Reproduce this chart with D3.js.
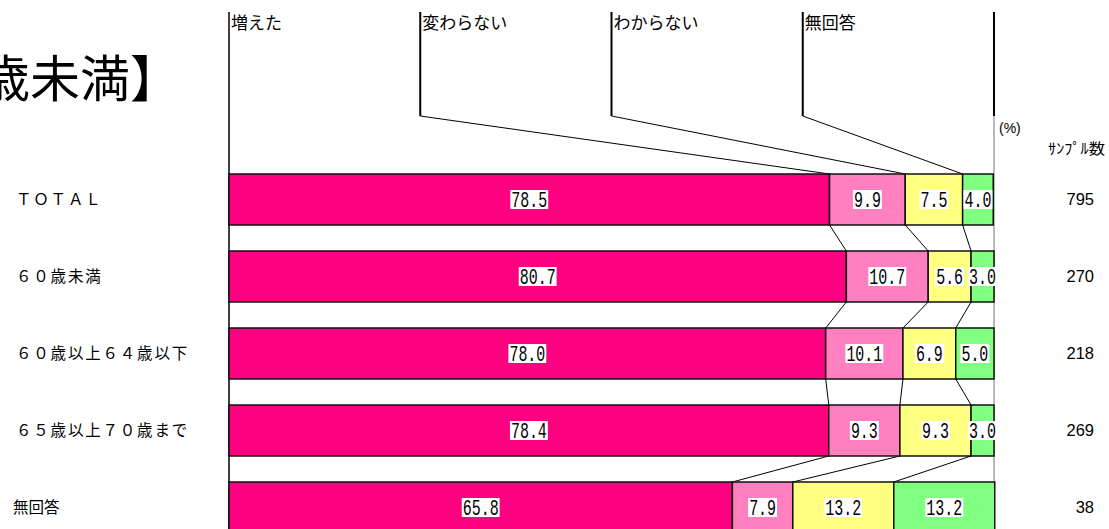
<!DOCTYPE html>
<html>
<head>
<meta charset="utf-8">
<script src="https://cdn.jsdelivr.net/npm/d3@7"></script>
<style>
  body { margin: 0; background: #fff; }
  svg { display: block; font-family: "Noto Sans CJK JP", "Noto Sans", sans-serif; }
  text { fill: #000; }
</style>
</head>
<body>
<svg id="chart" width="1109" height="529"></svg>
<script>
// categories (rows) and answer options (series)
const categories = ["ＴＯＴＡＬ", "６０歳未満", "６０歳以上６４歳以下", "６５歳以上７０歳まで", "無回答"];
const seriesNames = ["増えた", "変わらない", "わからない", "無回答"];
const seriesColors = ["#ff0080", "#ff80c0", "#ffff80", "#80ff80"];

const increased = [78.5, 80.7, 78.0, 78.4, 65.8];
const unchanged = [9.9, 10.7, 10.1, 9.3, 7.9];
const unknown = [7.5, 5.6, 6.9, 9.3, 13.2];
const noAnswer = [4.0, 3.0, 5.0, 3.0, 13.2];
const sampleSizes = [795, 270, 218, 269, 38];

const values = [increased, unchanged, unknown, noAnswer];

const svg = d3.select("#chart");

const x = d3.scaleLinear().domain([0, 100]).range([229, 994]);
const y = d3.scaleBand()
  .domain(categories)
  .range([174, 533])
  .paddingInner(0.3377)
  .paddingOuter(0)
  .align(0);

// stacked rows
const rows = categories.map((c, i) => {
  let acc = 0;
  return values.map((s, k) => {
    const seg = { cat: c, k, v: s[i], x0: acc, x1: acc + s[i] };
    acc += s[i];
    return seg;
  });
});

// legend header columns
const legendTop = 12, legendBottom = 116;
const legendX = d3.scaleLinear().domain([0, seriesNames.length]).range([x(0), x(100)]);

const lines = svg.append("g").attr("stroke", "#000").attr("fill", "none");

// left axis and right frame
lines.append("line")
  .attr("x1", x(0)).attr("x2", x(0))
  .attr("y1", legendTop).attr("y2", 529)
  .attr("stroke-width", 1.5);
lines.append("line")
  .attr("x1", x(100)).attr("x2", x(100))
  .attr("y1", legendTop).attr("y2", legendBottom)
  .attr("stroke-width", 2);
lines.append("line")
  .attr("x1", x(100)).attr("x2", x(100))
  .attr("y1", legendBottom).attr("y2", 529)
  .attr("stroke", "#777").attr("stroke-width", 1);

seriesNames.forEach((name, k) => {
  const lx = legendX(k);
  if (k > 0) {
    lines.append("line")
      .attr("x1", lx).attr("x2", lx)
      .attr("y1", legendTop).attr("y2", legendBottom)
      .attr("stroke-width", 2);
    // leader to the first row
    lines.append("line")
      .attr("x1", lx).attr("y1", legendBottom)
      .attr("x2", x(rows[0][k].x0)).attr("y2", y(categories[0]))
      .attr("stroke-width", 1);
  }
  svg.append("text")
    .attr("x", lx + 2).attr("y", 29)
    .attr("font-size", 17)
    .text(name);
});

// connector lines between rows
for (let i = 0; i < categories.length - 1; i++) {
  for (let k = 1; k < seriesNames.length; k++) {
    lines.append("line")
      .attr("x1", x(rows[i][k].x0)).attr("y1", y(categories[i]) + y.bandwidth())
      .attr("x2", x(rows[i + 1][k].x0)).attr("y2", y(categories[i + 1]))
      .attr("stroke-width", 1);
  }
}

// bars
const rowG = svg.append("g").selectAll("g")
  .data(rows)
  .join("g");

rowG.selectAll("rect")
  .data(d => d)
  .join("rect")
    .attr("x", d => x(d.x0))
    .attr("y", d => y(d.cat))
    .attr("width", d => x(d.x1) - x(d.x0))
    .attr("height", y.bandwidth())
    .attr("fill", d => seriesColors[d.k])
    .attr("stroke", "#111")
    .attr("stroke-width", 1.5);

// value labels with white background
const labelG = svg.append("g");
rows.flat().forEach(d => {
  const cx = (x(d.x0) + x(d.x1)) / 2;
  const cy = y(d.cat) + y.bandwidth() / 2;
  const g = labelG.append("g").attr("transform", `translate(${cx},${cy})`);
  const bg = g.append("rect").attr("fill", "#fff");
  const t = g.append("text")
    .style("font-family", "'Liberation Mono', 'DejaVu Sans Mono', monospace")
    .attr("font-size", 22)
    .attr("transform", "scale(0.68,1)")
    .attr("text-anchor", "middle")
    .attr("dy", "0.36em")
    .text(d.v.toFixed(1));
  const w = t.node().getComputedTextLength() * 0.68;
  bg.attr("x", -w / 2 - 1).attr("y", -9.5).attr("width", w + 2).attr("height", 19);
});

// category labels
svg.append("g").selectAll("text")
  .data(categories)
  .join("text")
    .attr("x", d => d === "無回答" ? 13 : 16)
    .attr("y", d => y(d) + y.bandwidth() / 2)
    .attr("dy", "0.36em")
    .attr("font-size", 15.5)
    .attr("letter-spacing", d => d === "無回答" ? 0 : 1.8)
    .text(d => d);

// sample sizes
svg.append("g").selectAll("text")
  .data(sampleSizes)
  .join("text")
    .attr("x", 1094)
    .attr("y", (d, i) => y(categories[i]) + y.bandwidth() / 2)
    .attr("dy", "0.36em")
    .attr("text-anchor", "end")
    .style("font-family", "'Liberation Sans Narrow', 'Liberation Sans', sans-serif")
    .attr("font-size", 16.5)
    .text(d => d);

svg.append("text")
  .attr("x", 999).attr("y", 133)
  .style("font-family", "'Liberation Sans Narrow', 'Liberation Sans', sans-serif")
  .attr("font-size", 14)
  .text("(%)");

svg.append("text")
  .attr("x", 1048).attr("y", 154)
  .attr("font-size", 15)
  .attr("textLength", 57)
  .attr("lengthAdjust", "spacingAndGlyphs")
  .text("ｻﾝﾌﾟﾙ数");

// title (cut off at the left edge)
svg.append("text")
  .attr("x", 180).attr("y", 97)
  .attr("text-anchor", "end")
  .attr("font-size", 50)
  .text("【６０歳未満】");
</script>
</body>
</html>
